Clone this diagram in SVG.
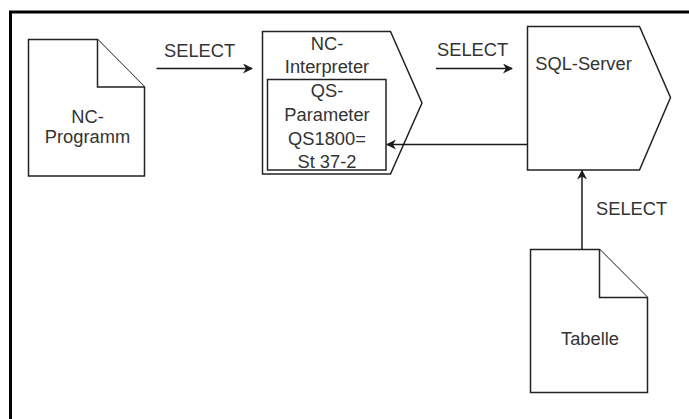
<svg xmlns="http://www.w3.org/2000/svg" width="689" height="419" viewBox="0 0 689 419">
<defs>
<marker id="ah" viewBox="0 0 10 10" refX="9" refY="5" markerWidth="10" markerHeight="10" markerUnits="userSpaceOnUse" orient="auto">
<path d="M0,0 L10,5 L0,10 L3,5 Z" fill="#1a1a1a"/>
</marker>
<style>
.shape{fill:#fff;stroke:#222;stroke-width:1.5}
.t{font-family:"Liberation Sans",Arial,sans-serif;font-size:18.3px;fill:#333;text-anchor:middle}
.lbl{font-family:"Liberation Sans",Arial,sans-serif;font-size:18.3px;fill:#333}
.conn{fill:none;stroke:#1a1a1a;stroke-width:1.5}
</style>
</defs>
<rect x="0" y="0" width="689" height="419" fill="#fff"/>
<path d="M10.5,419 V12 H689" fill="none" stroke="#000" stroke-width="3"/>

<g id="nc-programm">
<path class="shape" d="M28.5,39.5 H97.5 L144.5,87 V176 H28.5 Z"/>
<path class="shape" d="M97.5,39.5 V87 H144.5" fill="none"/>
<text class="t" x="87.5" y="123">NC-</text>
<text class="t" x="87.5" y="143">Programm</text>
</g>

<g id="nc-interpreter">
<path class="shape" d="M262.5,31.5 H390.5 L422,103 L390.5,174 H262.5 Z"/>
<rect class="shape" x="267.5" y="79.5" width="118.5" height="90.5"/>
<text class="t" x="327" y="50">NC-</text>
<text class="t" x="327" y="73">Interpreter</text>
<text class="t" x="327" y="97">QS-</text>
<text class="t" x="327" y="121">Parameter</text>
<text class="t" x="327" y="145">QS1800=</text>
<text class="t" x="327" y="168">St 37-2</text>
</g>

<g id="sql-server">
<path class="shape" d="M527.5,26.5 H639.5 L670.5,97.5 L639.5,170 H527.5 Z"/>
<text class="t" x="583.5" y="70">SQL-Server</text>
</g>

<g id="tabelle">
<path class="shape" d="M530.5,249.5 H599.5 L647.5,297.5 V392.5 H530.5 Z"/>
<path class="shape" d="M599.5,249.5 V297.5 H647.5" fill="none"/>
<text class="t" x="590" y="345">Tabelle</text>
</g>

<g id="connectors">
<path class="conn" d="M156.5,68.5 H252" marker-end="url(#ah)"/>
<path class="conn" d="M436,68.5 H512" marker-end="url(#ah)"/>
<path class="conn" d="M527.5,144.5 H387" marker-end="url(#ah)"/>
<path class="conn" d="M582,249.5 V170.5" marker-end="url(#ah)"/>
<text class="lbl" x="164" y="57">SELECT</text>
<text class="lbl" x="437" y="56">SELECT</text>
<text class="lbl" x="596" y="215">SELECT</text>
</g>
</svg>
